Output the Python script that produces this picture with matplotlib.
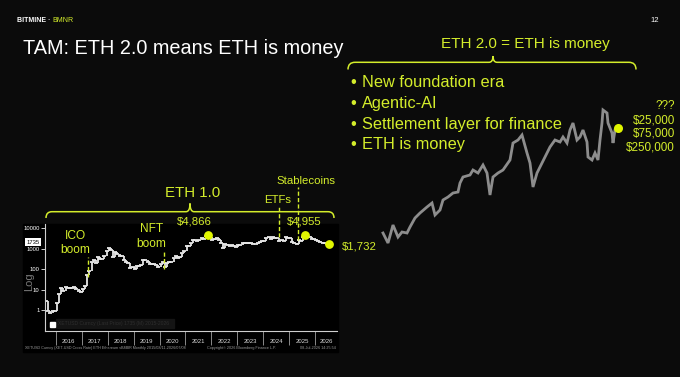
import matplotlib.pyplot as plt
import numpy as np
from matplotlib.path import Path
from matplotlib.patches import PathPatch, Rectangle
from matplotlib.ticker import NullLocator

plt.rcParams['font.family'] = ['Liberation Sans', 'DejaVu Sans']

W, H = 680, 377
BG = '#0b0b0b'
LIME = '#d4ed2b'
DOT = '#e1f600'

# ETH monthly closes (USD), Aug 2015 .. Jul 2026
eth_close = [
    2.8, 0.9, 0.7, 0.9, 0.95,
    2.2, 6.3, 11.4, 8.8, 14.0, 12.5, 11.8, 11.5, 13.2, 11.0, 8.8, 8.0,
    10.7, 15.8, 50, 80, 230, 290, 200, 385, 302, 305, 447, 756,
    1118, 856, 397, 670, 577, 455, 433, 283, 232, 198, 113, 133,
    107, 136, 141, 162, 268, 291, 218, 172, 180, 182, 152, 130,
    180, 218, 133, 207, 231, 226, 345, 434, 359, 386, 612, 737,
    1314, 1418, 1918, 2773, 2706, 2275, 2536, 3433, 3001, 4288, 4631, 3683,
    2688, 2920, 3282, 2727, 1942, 1067, 1679, 1554, 1328, 1572, 1296, 1196,
    1585, 1605, 1822, 1870, 1874, 1934, 1857, 1645, 1671, 1815, 2047, 2282,
    2283, 3340, 3647, 3015, 3763, 3433, 3232, 2513, 2603, 2518, 3705, 3332,
    3300, 2237, 1822, 1794, 2528, 2486, 3700, 4400, 4145, 3850, 3000, 2970,
    2700, 2300, 2100, 2000, 1900, 1800, 1735,
]
eth_first_month = 2015 + 7.5 / 12

peak_labels = ['$4,866', '$4,955']
peak_dates = [2021.875, 2025.625]
peak_values = [4866, 4955]

event_dates = [2017.25, 2020.17, 2024.62, 2025.33]
event_spans = [(40, 377), (100, 900), (3680, 1.3e5), (2540, 1e6)]

years = list(range(2016, 2027))
ytick_values = [1, 10, 100, 1000, 10000]
last_price = 1735

bullets = ['New foundation era', 'Agentic-AI', 'Settlement layer for finance', 'ETH is money']
targets = ['???', '$25,000', '$75,000', '$250,000']

# grey "what if" path on the right, position along and level
proj_x = [3, 8, 13, 18, 22, 27, 30, 35, 40, 47, 52, 55, 60, 63, 68, 73, 78, 80, 83,
          90, 93, 98, 103, 107, 110, 113, 118, 123, 130, 133, 138, 142, 147, 150,
          153, 157, 160, 165, 170, 175, 180, 183, 187, 190, 193, 197, 200, 203,
          207, 208, 212, 215, 218, 220, 222, 223, 227, 228, 232, 233, 235]
proj_y = [17, 7, 25, 13, 18, 17, 23, 32, 37, 43, 47, 35, 40, 50, 53, 57, 58, 67, 73,
          75, 80, 77, 85, 77, 55, 73, 77, 80, 90, 107, 110, 115, 97, 87,
          63, 77, 83, 93, 103, 110, 108, 113, 107, 120, 127, 110, 113, 120,
          108, 93, 90, 97, 90, 110, 127, 140, 137, 127, 117, 107, 120]


def box(x0, y0, x1, y1):
    return [x0 / W, 1 - y1 / H, (x1 - x0) / W, (y1 - y0) / H]


def brace(axis, x0, x1, ye, yh, xp, yp, r=6, s=4):
    verts = [(x0, ye), (x0, yh), (x0 + r, yh), (xp - s, yh), (xp, yh), (xp, yp),
             (xp, yh), (xp + s, yh), (x1 - r, yh), (x1, yh), (x1, ye)]
    codes = [Path.MOVETO, Path.CURVE3, Path.CURVE3, Path.LINETO, Path.CURVE3, Path.CURVE3,
             Path.CURVE3, Path.CURVE3, Path.LINETO, Path.CURVE3, Path.CURVE3]
    axis.add_patch(PathPatch(Path(verts, codes), fill=False, ec=LIME, lw=1.1))


fig = plt.figure(figsize=(6.8, 3.77), dpi=100, facecolor=BG)

bg = fig.add_axes([0, 0, 1, 1], zorder=0)
bg.set_xlim(0, W)
bg.set_ylim(H, 0)
bg.axis('off')
bg.add_patch(Rectangle((23, 224), 315, 128, color='black'))

# Bloomberg style price panel
ax = fig.add_axes(box(45, 224, 337, 331), zorder=2)
ax.set_facecolor('black')
x = eth_first_month + np.arange(len(eth_close)) / 12
closes = np.array(eth_close)
opens = np.concatenate([[closes[0]], closes[:-1]])
ax.vlines(x, np.minimum(opens, closes), np.maximum(opens, closes), color='#e6e6e6', lw=1.3)
ax.plot(x, closes, ls='none', marker='_', ms=2.2, mew=1.3, color='#e6e6e6')
ax.set_yscale('log')
ax.set_ylim(0.095, 16200)
ax.set_xlim(2015.58, 2026.85)
ax.set_yticks(ytick_values, labels=[str(v) for v in ytick_values])
ax.yaxis.set_minor_locator(NullLocator())
ax.tick_params(axis='y', length=3, width=0.7, color='#cccccc', labelsize=4.2,
               labelcolor='white', pad=1)
bounds = years + [ax.get_xlim()[1]]
mids = [(a + b) / 2 for a, b in zip(bounds[:-1], bounds[1:])]
ax.set_xticks(years, labels=[''] * len(years))
ax.set_xticks(mids, labels=[str(y) for y in years], minor=True)
ax.tick_params(axis='x', which='major', length=10, width=0.7, color='#8a8a8a')
ax.tick_params(axis='x', which='minor', length=0, labelsize=4.3, labelcolor='#dddddd', pad=5.5)
for side in ['top', 'right']:
    ax.spines[side].set_visible(False)
for side in ['left', 'bottom']:
    ax.spines[side].set_color('#cfcfcf')
    ax.spines[side].set_linewidth(0.8)

ax.annotate(str(last_price), xy=(0, last_price), xycoords=('axes fraction', 'data'),
            xytext=(-8.6, 1.2), textcoords='offset points', ha='center', va='center',
            fontsize=4.2, color='black',
            bbox=dict(boxstyle='square,pad=0.25', fc='white', ec='none'), annotation_clip=False)

ax.scatter(peak_dates, peak_values, s=28, color=DOT, zorder=5, clip_on=False)
ax.scatter([x[-1]], [closes[-1]], s=28, color=DOT, zorder=5, clip_on=False)
for d, (lo, hi) in zip(event_dates, event_spans):
    ax.plot([d, d], [lo, hi], ls=(0, (3, 1.6)), color=LIME, lw=1, clip_on=False, zorder=4)

# grey projection
pr = fig.add_axes(box(380, 100, 620, 250), zorder=1)
pr.set_xlim(0, 240)
pr.set_ylim(0, 150)
pr.axis('off')
pr.plot(proj_x, proj_y, color='#8d8d8d', lw=2.0, solid_joinstyle='miter')
pr.scatter([proj_x[-1] + 3], [proj_y[-1] + 2], s=30, color=DOT, zorder=5, clip_on=False)

# text layer
fg = fig.add_axes([0, 0, 1, 1], zorder=5)
fg.set_xlim(0, W)
fg.set_ylim(H, 0)
fg.axis('off')
fg.patch.set_alpha(0)

fg.text(17, 20, 'BITMINE ·', color='white', fontsize=5, fontweight='bold', va='center')
fg.text(52, 20, 'BMNR', color=LIME, fontsize=5, va='center')
fg.text(655, 20, '12', color='white', fontsize=5.5, va='center', ha='center')
fg.text(23, 54.3, 'TAM: ETH 2.0 means ETH is money', color='white', fontsize=14.3, va='baseline')

fg.text(525, 48.3, 'ETH 2.0 = ETH is money', color=LIME, fontsize=11, ha='center', va='baseline')
brace(fg, 348, 636, 69.5, 62.3, 493, 56, r=7)
for i, b in enumerate(bullets):
    yb = 86.7 + i * 20.9
    fg.text(350, yb, '•', color=LIME, fontsize=11.8, va='baseline')
    fg.text(362, yb, b, color=LIME, fontsize=11.8, va='baseline')
for t, yb in zip(targets, [109, 123.3, 137, 150.7]):
    fg.text(675, yb, t, color=LIME, fontsize=8.4, ha='right', va='baseline')

fg.text(193, 197.3, 'ETH 1.0', color=LIME, fontsize=10.8, ha='center', va='baseline')
brace(fg, 46, 334, 218, 211.7, 190, 203.5)
fg.text(75, 239, 'ICO', color=LIME, fontsize=8.6, ha='center', va='baseline')
fg.text(75, 252.7, 'boom', color=LIME, fontsize=8.6, ha='center', va='baseline')
fg.text(151.5, 232.5, 'NFT', color=LIME, fontsize=8.6, ha='center', va='baseline')
fg.text(151.5, 247, 'boom', color=LIME, fontsize=8.6, ha='center', va='baseline')
fg.text(194, 224.5, peak_labels[0], color=LIME, fontsize=8.2, ha='center', va='baseline')
fg.text(304.5, 224.5, peak_labels[1], color=LIME, fontsize=8.2, ha='center', va='baseline')
fg.text(278, 203.3, 'ETFs', color=LIME, fontsize=8.2, ha='center', va='baseline')
fg.text(306, 184.3, 'Stablecoins', color=LIME, fontsize=8.2, ha='center', va='baseline')
fg.text(341.7, 249.5, '$1,732', color=LIME, fontsize=8.2, va='baseline')

fg.text(29, 282, 'Log', color='#7a7a7a', fontsize=8, rotation=90, ha='center', va='center')
fg.add_patch(Rectangle((56, 319), 118, 9, color='#141414'))
fg.add_patch(Rectangle((50, 322), 5, 5, color='white'))
fg.text(58, 323.5, 'XETUSD Curncy (Last Price) 1735 (M) 2015-2026', color='#2e2e2e',
        fontsize=3.6, va='center')
fg.text(25, 348, 'XETUSD Curncy (XET-USD Cross Rate) ETH Ethereum vBMBR Monthly 2015/08/11-2026/07/08',
        color='#9a9a9a', fontsize=2.7, va='center')
fg.text(207, 348, 'Copyright© 2026 Bloomberg Finance L.P.', color='#9a9a9a', fontsize=2.7, va='center')
fg.text(336, 348, '08-Jul-2026 14:25:54', color='#9a9a9a', fontsize=2.7, va='center', ha='right')

fig.savefig('out.png', dpi=100, facecolor=BG)
